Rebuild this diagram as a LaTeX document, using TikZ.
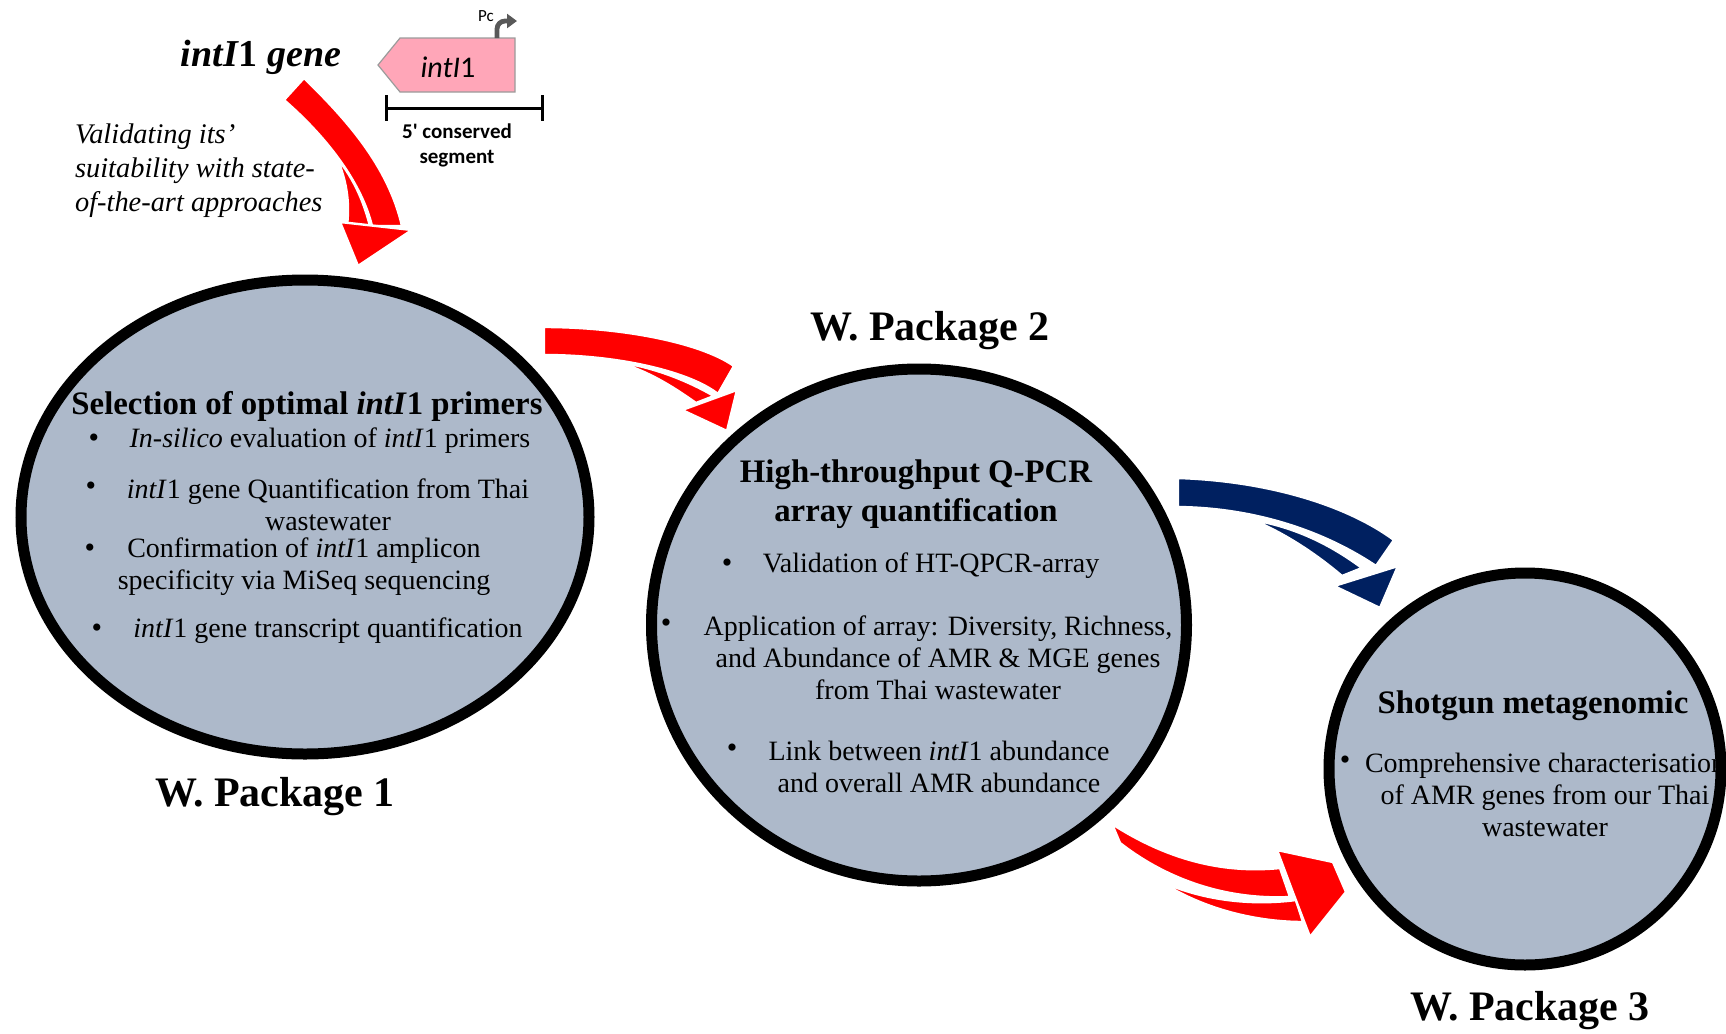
\documentclass[tikz,border=0pt]{standalone}
\usepackage{fontspec}
\setmainfont{Liberation Serif}
\newfontfamily\calibrifont{Carlito}
\usetikzlibrary{arrows.meta,shapes.geometric}

\definecolor{wpfill}{HTML}{ADB9CA}
\definecolor{flowred}{HTML}{FF0000}
\definecolor{flownavy}{HTML}{002060}
\definecolor{genepink}{HTML}{FFA6B8}
\definecolor{promgray}{HTML}{595959}

\newcommand{\intI}{\textit{intI}1}

\begin{document}
\begin{tikzpicture}
[x=0.5pt, y=-0.5pt,
  wpCircle/.style={ellipse, draw=black, line width=5.5pt, fill=wpfill, inner sep=0pt},
  wpLabel/.style={font=\fontsize{21}{24}\selectfont\bfseries},
  wpTitle/.style={font=\fontsize{16.4}{19.5}\selectfont\bfseries, align=center},
  wpText/.style={font=\fontsize{14}{16}\selectfont, align=center},
  wpBullet/.style={font=\fontsize{15}{16}\selectfont, inner sep=0pt},
  flowPart/.style={fill=#1, draw=white, line width=1.2pt, line join=round},
  calibriText/.style={font=\calibrifont#1, align=center}]
\useasboundingbox (0,0) rectangle (1726,1034);

%% work package circles
\node (wp1) at (305,517) [wpCircle, minimum width=284pt, minimum height=237pt] {};
\node (wp2) at (919,625) [wpCircle, minimum width=267.5pt, minimum height=256pt] {};
\node (wp3) at (1525,769) [wpCircle, minimum width=196pt, minimum height=196pt] {};

%% package labels
\foreach \nodename/\x/\y/\num in {lab1/275/797/1, lab2/930/331/2, lab3/1530/1011/3}
{
  \node (\nodename) at (\x,\y) [wpLabel] {W. Package \num};
}

%% headings inside circles
\node (head1) at (307,406) [wpTitle] {Selection of optimal \intI{} primers};
\node (head2) at (916,494) [wpTitle] {High-throughput Q-PCR\\array quantification};
\node (head3) at (1533,706) [wpTitle] {Shotgun metagenomic};

%% bullet points
\foreach \x/\y [count=\i] in {94/441, 91/489, 90/551, 97/631, 727/566, 666/626, 732/751, 1345/763}
{
  \node (dot\i) at (\x,\y) [wpBullet] {•};
}
\foreach \nodename/\x/\y/\txt in {
  item11/330/441/{\textit{In-silico} evaluation of \intI{} primers},
  item12/328/505/{\intI{} gene Quantification from Thai\\wastewater},
  item13/304/567/{Confirmation of \intI{} amplicon\\specificity via MiSeq sequencing},
  item14/328/631/{\intI{} gene transcript quantification},
  item21/931/566/{Validation of HT-QPCR-array},
  item22/938/658/{Application of array: Diversity, Richness,\\and Abundance of AMR \& MGE genes\\from Thai wastewater},
  item23/939/767/{Link between \intI{} abundance\\and overall AMR abundance},
  item31/1545/795/{Comprehensive characterisation\\of AMR genes from our Thai\\wastewater}}
{
  \node (\nodename) at (\x,\y) [wpText] {\txt};
}

%% gene sketch
\node (genetitle) at (261,57) [font=\bfseries\fontsize{19}{22}\selectfont] {\textit{intI}1 \textit{gene}};
\node (note) at (68,171) [anchor=west, align=left, font=\itshape\fontsize{14.2}{17}\selectfont]
  {Validating its'\\suitability with state-\\of-the-art approaches};
\draw[draw=promgray!60, fill=genepink, line width=0.6pt]
  (378,65) -- (400,38) -- (515,38) -- (515,92) -- (400,92) -- cycle;
\node (genebox) at (448,67) [calibriText=\itshape\fontsize{15}{18}\selectfont] {intI\textup{1}};
\draw[promgray, line width=2.4pt, rounded corners=4pt, -{Triangle[length=5pt, width=7pt]}]
  (497,38) -- (497,21) -- (517,21);
\node (pc) at (486,16) [calibriText=\fontsize{8.5}{10}\selectfont] {Pc};
\draw[line width=1.5pt] (386,108) -- (542,108);
\draw[line width=1.5pt] (386,95) -- (386,121) (542,95) -- (542,121);
\node (segment) at (457,145) [calibriText=\bfseries\fontsize{10.5}{12.5}\selectfont] {5' conserved\\segment};

%% flow arrows
% gene -> package 1
\path[flowPart=flowred] (284,100) -- (304,78) .. controls (345,118) and (388,165) .. (402,226)
  -- (372,226) .. controls (362,185) and (330,140) .. cycle;
\path[flowPart=flowred] (337,158) .. controls (355,180) and (364,203) .. (370,226)
  -- (347,226) .. controls (350,200) and (346,180) .. cycle;
\path[flowPart=flowred] (340,222) -- (412,230) -- (358,266) -- cycle;
% package 1 -> package 2
\path[flowPart=flowred] (544,327) .. controls (620,327) and (700,342) .. (734,366)
  -- (718,394) .. controls (690,372) and (620,355) .. (544,355) -- cycle;
\path[flowPart=flowred] (617,362) .. controls (655,367) and (690,382) .. (714,396)
  -- (696,403) .. controls (672,386) and (648,371) .. cycle;
\path[flowPart=flowred] (682,410) -- (737,390) -- (727,431) -- cycle;
% package 2 -> package 3 (upper)
\path[flowPart=flownavy] (1178,478) .. controls (1270,481) and (1348,506) .. (1394,540)
  -- (1376,566) .. controls (1330,535) and (1262,508) .. (1178,507) -- cycle;
\path[flowPart=flownavy] (1253,520) .. controls (1300,528) and (1335,548) .. (1362,568)
  -- (1342,576) .. controls (1316,554) and (1286,534) .. cycle;
\path[flowPart=flownavy] (1334,586) -- (1398,566) -- (1380,608) -- cycle;
% package 2 -> package 3 (lower)
\path[flowPart=flowred] (1112,824) .. controls (1165,858) and (1220,874) .. (1280,868)
  -- (1290,897) .. controls (1230,900) and (1170,882) .. (1120,843) -- cycle;
\path[flowPart=flowred] (1158,880) .. controls (1200,900) and (1250,906) .. (1296,900)
  -- (1303,922) .. controls (1260,922) and (1205,911) .. cycle;
\path[flowPart=flowred] (1277,850) -- (1333,862) -- (1346,892) -- (1310,937) -- (1292,890) -- cycle;
\end{tikzpicture}
\end{document}
